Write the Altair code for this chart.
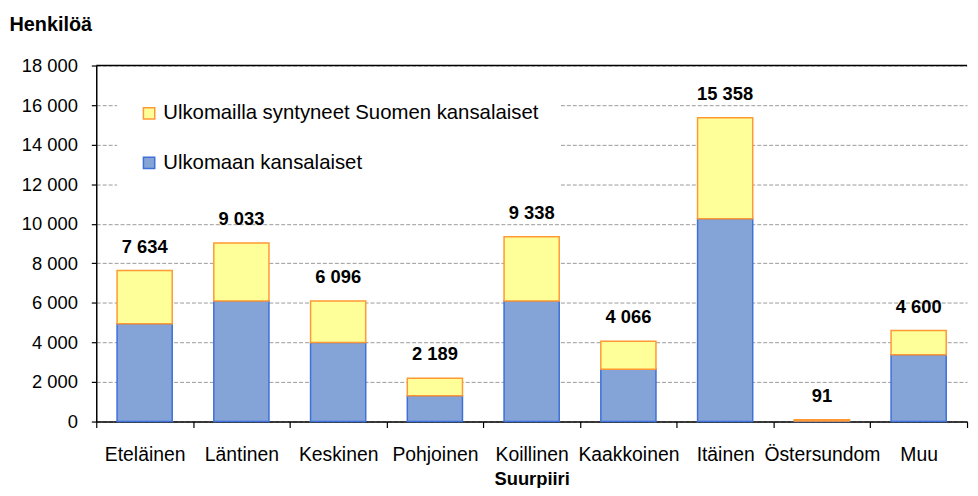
import altair as alt
import pandas as pd

categories = ["Eteläinen", "Läntinen", "Keskinen", "Pohjoinen", "Koillinen",
              "Kaakkoinen", "Itäinen", "Östersundom", "Muu"]
totals = [7634, 9033, 6096, 2189, 9338, 4066, 15358, 91, 4600]
foreign_citizens = [4950, 6100, 4000, 1300, 6100, 2650, 10250, 30, 3380]
series_names = ["Ulkomailla syntyneet Suomen kansalaiset", "Ulkomaan kansalaiset"]
fill_colors = ["#FFFF99", "#84A4D8"]
stroke_colors = ["#FF9933", "#3F6FD8"]
y_ticks = [0, 2000, 4000, 6000, 8000, 10000, 12000, 14000, 16000, 18000]

rows = []
for c, t, f in zip(categories, totals, foreign_citizens):
    rows.append({"cat": c, "serie": series_names[1], "value": f, "ord": 0})
    rows.append({"cat": c, "serie": series_names[0], "value": t - f, "ord": 1})
df = pd.DataFrame(rows)
tot_df = pd.DataFrame({"cat": categories, "value": totals})

FONT = "Liberation Sans"
FS = 18.5

legend = alt.Legend(
    title=None, orient="none", legendX=21, legendY=16, direction="vertical",
    fillColor="white", padding=22, symbolType="square", symbolSize=130,
    symbolStrokeWidth=1.5, labelFontSize=20.5, labelFont=FONT, labelColor="black",
    labelLimit=700, rowPadding=29, labelOffset=4,
)

x_axis = alt.Axis(
    title="Suurpiiri", labelAngle=0, tickBand="extent", grid=False,
    domainColor="black", domainWidth=1.5, tickColor="black", tickWidth=1.2,
    tickSize=6, labelFontSize=19.5, labelFont=FONT, labelColor="black",
    labelPadding=18, titleFontSize=FS, titleFont=FONT, titleFontWeight="bold",
    titleColor="black", titlePadding=6, labelLimit=200, labelOverlap=False,
)
x_scale = alt.Scale(paddingInner=0, paddingOuter=0)

y_axis = alt.Axis(
    values=y_ticks, title="Henkilöä", titleAngle=0, titleX=-88, titleY=-35,
    titleAlign="left", titleBaseline="alphabetic", titleFont=FONT,
    titleFontSize=20, titleFontWeight="bold", titleColor="black",
    labelExpr="replace(format(datum.value, ','), ',', ' ')",
    labelFontSize=FS, labelFont=FONT, labelColor="black", labelPadding=14,
    labelOverlap=False, labelFlush=False, labelBound=False,
    domainColor="black", domainWidth=1.5, tickColor="black", tickSize=5,
    tickWidth=1.2, grid=True, gridColor="#9a9a9a", gridDash=[4, 2], gridWidth=1,
)
y_scale = alt.Scale(domain=[0, 18000], nice=False)

bars = alt.Chart(df).mark_bar(width=alt.RelativeBandSize(0.57), strokeWidth=1.5).encode(
    x=alt.X("cat:N", sort=categories, scale=x_scale, axis=x_axis),
    y=alt.Y("value:Q", stack="zero", scale=y_scale, axis=y_axis),
    fill=alt.Fill("serie:N", scale=alt.Scale(domain=series_names, range=fill_colors), legend=legend),
    stroke=alt.Stroke("serie:N", scale=alt.Scale(domain=series_names, range=stroke_colors), legend=legend),
    order=alt.Order("ord:Q"),
)

top_line = alt.Chart(pd.DataFrame({"value": [y_ticks[-1]]})).mark_rule(
    color="black", strokeWidth=1.6, strokeDash=[1, 0]
).encode(y=alt.Y("value:Q", scale=y_scale, axis=y_axis))

labels = alt.Chart(tot_df).transform_calculate(
    lab="replace(format(datum.value, ','), ',', ' ')"
).mark_text(
    font=FONT, fontSize=FS, fontWeight="bold", color="black", dy=-18, baseline="alphabetic"
).encode(
    x=alt.X("cat:N", sort=categories, scale=x_scale, axis=x_axis),
    y=alt.Y("value:Q", scale=y_scale, axis=y_axis),
    text="lab:N",
)

chart = alt.layer(bars, top_line, labels).properties(
    width=878, height=359,
    padding={"left": 89, "top": 56, "right": 3, "bottom": 65},
    autosize=alt.AutoSizeParams(type="none"),
).configure_view(stroke=None)

chart.save("out.html", embed_options={"renderer": "svg", "actions": False})
